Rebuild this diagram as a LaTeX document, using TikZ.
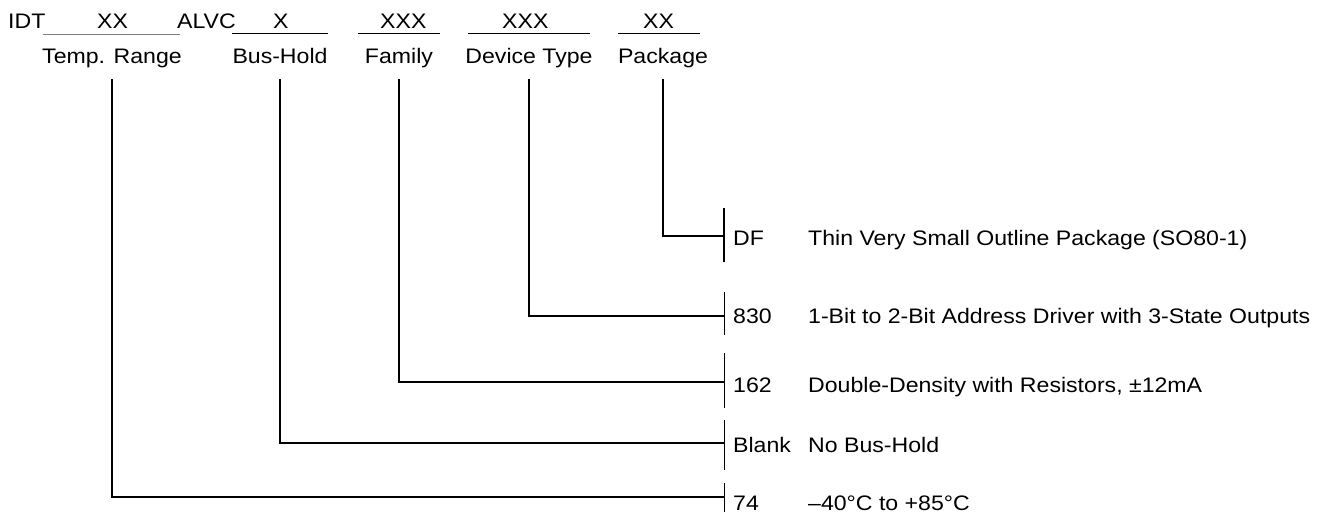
\documentclass[tikz,border=0pt]{standalone}
\usepackage{fontspec}
\setmainfont[FakeStretch=1.1]{Liberation Sans}
\usetikzlibrary{positioning}
\tikzset{x=1pt,y=-1pt,
  txt/.style={inner sep=0pt,font=\fontsize{21}{25}\selectfont},
  wire/.style={line width=1.3pt},
  bar/.style={line width=1pt},
  rule/.style={line width=0.9pt}}

\begin{document}
\begin{tikzpicture}
        \useasboundingbox (0,0) rectangle (1319,512);
        % part number
        \node[txt,anchor=base west] (idt) at (8,28) {IDT};
        \node[txt,anchor=base west] (xx) at (97,28) {XX};
        \node[txt,anchor=base west] (alvc) at (177,28) {ALVC};
        \node[txt,anchor=base west] (x) at (273,28) {X};
        \node[txt,anchor=base west] (fam) at (380,28) {XXX};
        \node[txt,anchor=base west] (dev) at (502,28) {XXX};
        \node[txt,anchor=base west] (pkg) at (643,28) {XX};
        \draw[rule,gray] (43,34) -- (180,34);
        \draw[rule] (232,33) -- (328,33);
        \draw[rule] (358,33) -- (440,33);
        \draw[rule] (468,33) -- (590,33);
        \draw[rule] (618,33) -- (700,33);
        % field names
        \node[txt,anchor=base] (temp) at (112,63) {Temp. Range};
        \node[txt,anchor=base] (hold) at (280,63) {Bus-Hold};
        \node[txt,anchor=base] (family) at (399,63) {Family};
        \node[txt,anchor=base] (type) at (529,63) {Device Type};
        \node[txt,anchor=base] (package) at (663,63) {Package};
        \coordinate (top) at (0,79);
        % choices
        \coordinate (bDF) at (724,236);
        \coordinate (b830) at (724,316);
        \coordinate (b162) at (724,382);
        \coordinate (bBlank) at (724,443);
        \coordinate (b74) at (724,497);
        \draw[bar,line width=2pt] (724,208) -- (724,262);
        \draw[bar] (724,292) -- (724,335);
        \draw[bar] (724,353) -- (724,408);
        \draw[bar] (724,420) -- (724,470);
        \draw[bar] (724,483) -- (724,512);
        \node[txt,anchor=base west] (cDF) at (733,245) {DF};
        \node[txt,anchor=base west] (dDF) at (808,245) {Thin Very Small Outline Package (SO80-1)};
        \node[txt,anchor=base west] (c830) at (733,323) {830};
        \node[txt,anchor=base west] (d830) at (808,323) {1-Bit to 2-Bit Address Driver with 3-State Outputs};
        \node[txt,anchor=base west] (c162) at (733,392) {162};
        \node[txt,anchor=base west] (d162) at (808,392) {Double-Density with Resistors, ±12mA};
        \node[txt,anchor=base west] (cBlank) at (733,452) {Blank};
        \node[txt,anchor=base west] (dBlank) at (808,452) {No Bus-Hold};
        \node[txt,anchor=base west] (c74) at (733,510) {74};
        \node[txt,anchor=base west] (d74) at (808,510) {–40°C to +85°C};
        % connectors
        \draw[wire] (package |- top) |- (bDF);
        \draw[wire] (type |- top) |- (b830);
        \draw[wire] (family |- top) |- (b162);
        \draw[wire] (hold |- top) |- (bBlank);
        \draw[wire] (temp |- top) |- (b74);
\end{tikzpicture}
\end{document}
